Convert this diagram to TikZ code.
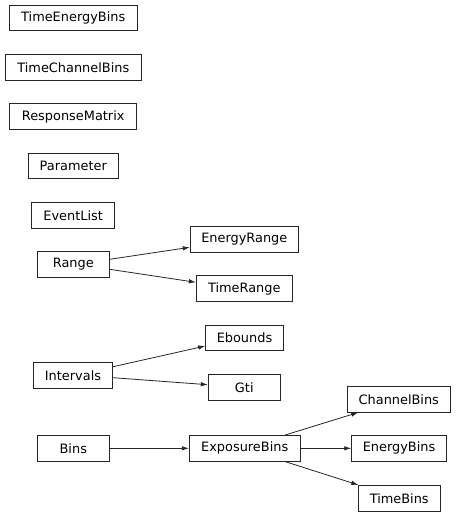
\documentclass[tikz,border=0pt]{standalone}
\usepackage{fontspec}
\setmainfont{DejaVu Sans}
\usetikzlibrary{arrows.meta}
\begin{document}
\begin{tikzpicture}[x=1pt,y=-1pt,
  cls/.style={draw=black!85,line width=0.9pt,inner sep=0pt,minimum height=25.6pt,font=\fontsize{12.9}{15}\selectfont},
  arr/.style={draw=black!85,line width=0.8pt,-{Latex[length=7pt,width=4.5pt]}}]
\useasboundingbox (0,0) rectangle (456,516);
\node[cls,minimum width=128.3pt] (teb) at (73.2,18) {TimeEnergyBins};
\node[cls,minimum width=136pt] (tcb) at (73.3,67.2) {TimeChannelBins};
\node[cls,minimum width=127pt] (rm) at (73.2,116.5) {ResponseMatrix};
\node[cls,minimum width=90pt] (par) at (73.3,165.8) {Parameter};
\node[cls,minimum width=83pt] (ev) at (73.2,215.2) {EventList};
\node[cls,minimum width=72pt] (rng) at (73.3,264.5) {Range};
\node[cls,minimum width=108pt] (er) at (244.3,239.2) {EnergyRange};
\node[cls,minimum width=96pt] (tr) at (244.3,288.5) {TimeRange};
\node[cls,minimum width=77.6pt] (eb) at (244.5,337.8) {Ebounds};
\node[cls,minimum width=79.4pt] (iv) at (73,375.2) {Intervals};
\node[cls,minimum width=72pt] (gti) at (244.3,387.2) {Gti};
\node[cls,minimum width=72pt] (bins) at (73.3,448.3) {Bins};
\node[cls,minimum width=110.7pt] (exp) at (244.7,448.3) {ExposureBins};
\node[cls,minimum width=103pt] (cb) at (398.8,399.2) {ChannelBins};
\node[cls,minimum width=94.6pt] (enb) at (399,448.3) {EnergyBins};
\node[cls,minimum width=82.3pt] (tb) at (399.2,498.2) {TimeBins};
\draw[arr] ([yshift=5.2pt]rng.east) -- ([yshift=-8.1pt]er.west);
\draw[arr] ([yshift=-4.8pt]rng.east) -- ([yshift=6.2pt]tr.west);
\draw[arr] ([yshift=8.5pt]iv.east) -- ([yshift=-8.2pt]eb.west);
\draw[arr] ([yshift=-2.5pt]iv.east) -- ([yshift=2.5pt]gti.west);
\draw[arr] (bins.east) -- (exp.west);
\draw[arr] ([xshift=40.3pt]exp.north) -- ([xshift=-40.5pt]cb.south);
\draw[arr] (exp.east) -- (enb.west);
\draw[arr] ([xshift=40.3pt]exp.south) -- ([xshift=-40.9pt]tb.north);
\end{tikzpicture}
\end{document}
